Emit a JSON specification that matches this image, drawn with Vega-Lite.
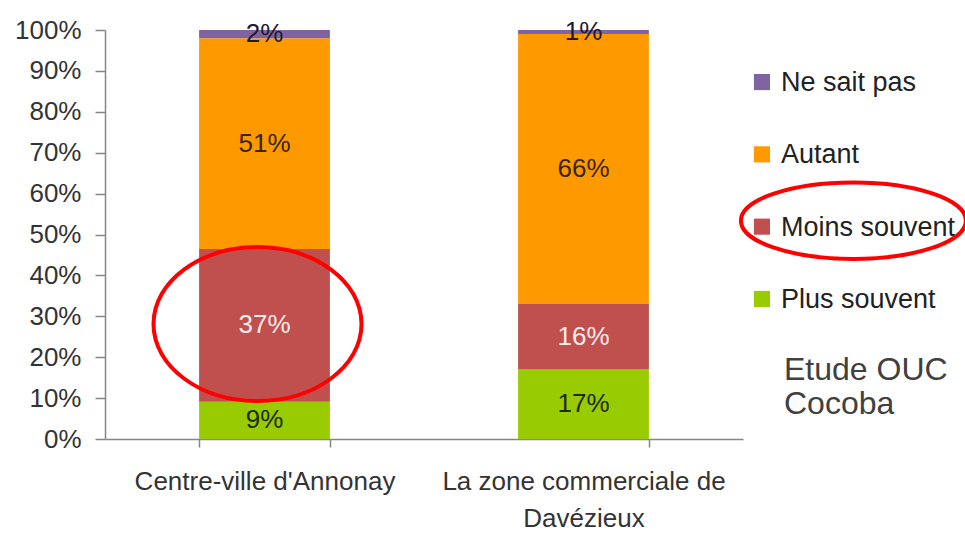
{
  "$schema": "https://vega.github.io/schema/vega-lite/v6.json",
  "background": "white",
  "padding": {"left": 14, "top": 17, "right": 0, "bottom": 0},
  "spacing": 0,
  "bounds": "flush",
  "config": {"view": {"stroke": null}, "font": "Liberation Sans"},
  "hconcat": [
    {
      "width": 638,
      "height": 409,
      "data": {"values": [
        {"zone": "Centre-ville d'Annonay", "answer": "Plus souvent", "rank": 1, "value": 0.09},
        {"zone": "Centre-ville d'Annonay", "answer": "Moins souvent", "rank": 2, "value": 0.37},
        {"zone": "Centre-ville d'Annonay", "answer": "Autant", "rank": 3, "value": 0.51},
        {"zone": "Centre-ville d'Annonay", "answer": "Ne sait pas", "rank": 4, "value": 0.02},
        {"zone": "La zone commerciale de Davézieux", "answer": "Plus souvent", "rank": 1, "value": 0.17},
        {"zone": "La zone commerciale de Davézieux", "answer": "Moins souvent", "rank": 2, "value": 0.16},
        {"zone": "La zone commerciale de Davézieux", "answer": "Autant", "rank": 3, "value": 0.66},
        {"zone": "La zone commerciale de Davézieux", "answer": "Ne sait pas", "rank": 4, "value": 0.01}
      ]},
      "encoding": {
        "x": {
          "field": "zone", "type": "nominal",
          "sort": ["Centre-ville d'Annonay", "La zone commerciale de Davézieux"],
          "scale": {"paddingInner": 0.59, "paddingOuter": 0.295},
          "axis": {
            "title": null, "labelAngle": 0, "labelFontSize": 26, "labelColor": "#333333", "labelLimit": 0,
            "labelPadding": 21, "labelLineHeight": 37, "tickBand": "extent", "tickSize": 8,
            "tickColor": "#868686", "domainColor": "#868686", "domainWidth": 1.5, "tickWidth": 1.5,
            "labelExpr": "datum.label === 'La zone commerciale de Davézieux' ? ['La zone commerciale de', 'Davézieux'] : datum.label"
          }
        },
        "order": {"field": "rank", "type": "quantitative", "sort": "ascending"}
      },
      "layer": [
        {
          "mark": {"type": "bar"},
          "encoding": {
            "y": {
              "field": "value", "type": "quantitative", "stack": "normalize",
              "scale": {"domain": [0, 1]},
              "axis": {
                "title": null, "format": ".0%", "values": [0, 0.1, 0.2, 0.3, 0.4, 0.5, 0.6, 0.7, 0.8, 0.9, 1],
                "grid": false, "labelFontSize": 26, "labelColor": "#333333", "labelPadding": 14,
                "tickSize": 10, "tickColor": "#868686", "domainColor": "#868686", "domainWidth": 1.5, "tickWidth": 1.5
              }
            },
            "color": {
              "field": "answer", "type": "nominal",
              "scale": {"domain": ["Plus souvent", "Moins souvent", "Autant", "Ne sait pas"], "range": ["#99CC00", "#C0504D", "#FF9900", "#8064A2"]},
              "legend": null
            }
          }
        },
        {
          "data": {"values": [{"note": "ellipse"}]},
          "mark": {
            "type": "point", "shape": "M -1 0 A 1 0.74 0 1 0 1 0 A 1 0.74 0 1 0 -1 0 Z",
            "size": 43264, "filled": false, "stroke": "#FF0000", "strokeWidth": 4, "opacity": 1, "xOffset": -7
          },
          "encoding": {
            "x": {"datum": "Centre-ville d'Annonay", "type": "nominal"},
            "y": {"datum": 0.281, "type": "quantitative"},
            "order": null
          }
        },
        {
          "mark": {"type": "text", "fontSize": 26, "baseline": "middle"},
          "encoding": {
            "y": {"field": "value", "type": "quantitative", "stack": "normalize", "bandPosition": 0.5},
            "text": {"field": "value", "type": "quantitative", "format": ".0%"},
            "color": {
              "field": "answer", "type": "nominal",
              "scale": {"domain": ["Plus souvent", "Moins souvent", "Autant", "Ne sait pas"], "range": ["#1e2a05", "#fbeaea", "#3a2608", "#1e1a2e"]},
              "legend": null
            }
          }
        }
      ],
      "resolve": {"scale": {"color": "independent"}}
    },
    {
      "width": 223,
      "height": 321,
      "title": {
        "text": ["Etude OUC", "Cocoba"], "orient": "bottom", "anchor": "start", "frame": "group",
        "fontSize": 32, "fontWeight": "normal", "color": "#404040", "font": "Liberation Sans",
        "offset": 4, "dx": 41, "lineHeight": 34
      },
      "data": {"values": [
        {"answer": "Ne sait pas"},
        {"answer": "Autant"},
        {"answer": "Moins souvent"},
        {"answer": "Plus souvent"}
      ]},
      "encoding": {
        "y": {
          "field": "answer", "type": "nominal",
          "sort": ["Ne sait pas", "Autant", "Moins souvent", "Plus souvent"],
          "scale": {"type": "point", "padding": 0.72},
          "axis": null
        }
      },
      "layer": [
        {
          "mark": {"type": "square", "size": 260, "opacity": 1},
          "encoding": {
            "x": {"datum": 0.085, "type": "quantitative", "scale": {"domain": [0, 1]}, "axis": null},
            "color": {
              "field": "answer", "type": "nominal",
              "scale": {"domain": ["Plus souvent", "Moins souvent", "Autant", "Ne sait pas"], "range": ["#99CC00", "#C0504D", "#FF9900", "#8064A2"]},
              "legend": null
            }
          }
        },
        {
          "mark": {"type": "text", "align": "left", "baseline": "middle", "fontSize": 27, "color": "#222222", "dy": 1},
          "encoding": {
            "x": {"datum": 0.17, "type": "quantitative"},
            "text": {"field": "answer", "type": "nominal"}
          }
        },
        {
          "data": {"values": [{"answer": "Moins souvent"}]},
          "mark": {
            "type": "point", "shape": "M -1 0 A 1 0.34 0 1 0 1 0 A 1 0.34 0 1 0 -1 0 Z",
            "size": 50625, "filled": false, "stroke": "#FF0000", "strokeWidth": 4, "opacity": 1, "yOffset": -6
          },
          "encoding": {
            "x": {"datum": 0.495, "type": "quantitative"}
          }
        }
      ]
    }
  ]
}
